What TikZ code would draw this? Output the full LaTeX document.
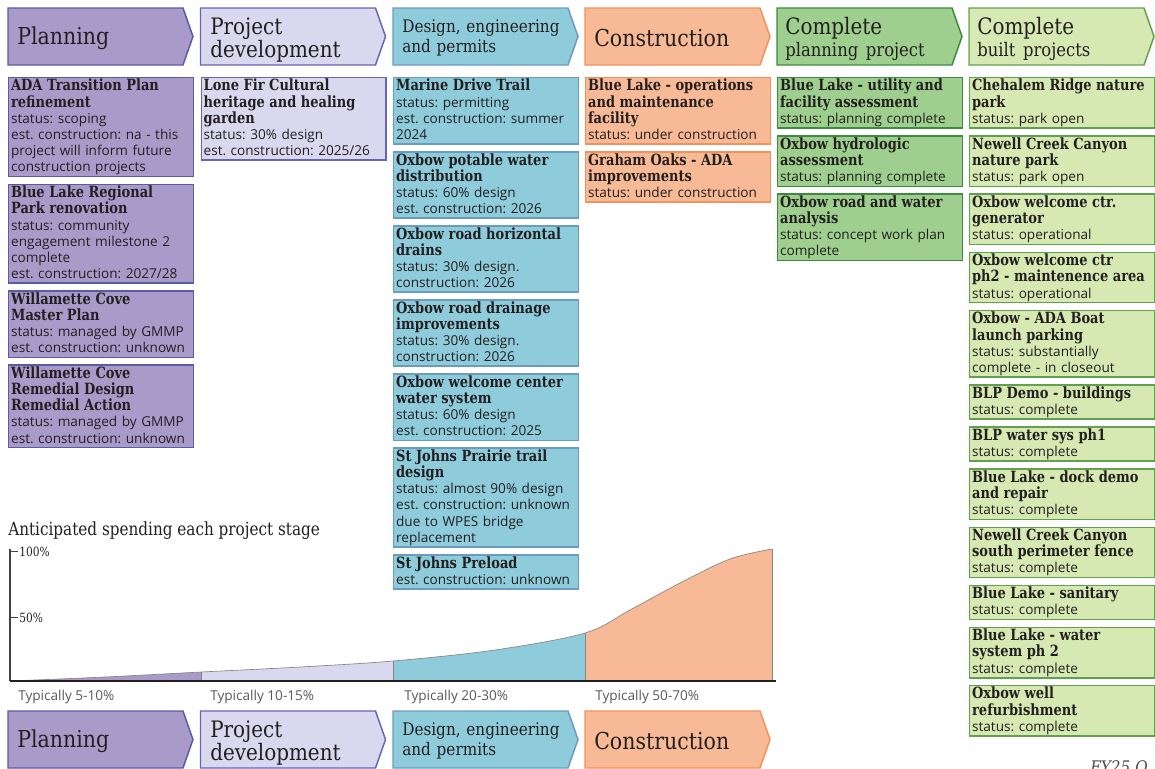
\documentclass[tikz,border=0pt]{standalone}
\usepackage{fontspec}
\setmainfont{Open Sans}
\newfontfamily\slab[FakeStretch=0.88]{DejaVu Serif}
\newfontfamily\slabttl[FakeStretch=0.84]{DejaVu Serif}
\newfontfamily\slabnarrow[FakeStretch=0.84]{DejaVu Serif}
\usetikzlibrary{positioning}
\frenchspacing
\definecolor{ink}{HTML}{231F20}
\definecolor{flplan}{HTML}{A99BC9}
\definecolor{lnplan}{HTML}{5A5BA5}
\definecolor{fldev}{HTML}{D9D8EE}
\definecolor{lndev}{HTML}{6466B4}
\definecolor{fldsgn}{HTML}{8FCCDB}
\definecolor{lndsgn}{HTML}{6A9CC0}
\definecolor{flcons}{HTML}{F8BA96}
\definecolor{lncons}{HTML}{F2915A}
\definecolor{flcplan}{HTML}{9FCF8E}
\definecolor{lncplan}{HTML}{3D8B3F}
\definecolor{flcbuilt}{HTML}{D7E9B2}
\definecolor{lncbuilt}{HTML}{62A04F}
\newcommand{\ptitle}[1]{{\slabttl\bfseries\fontsize{11.6}{12.15}\selectfont #1}}
\tikzset{
  projbox/.style={draw=ln#1, fill=fl#1, line width=1.1pt, rectangle, text width=135pt,
    inner xsep=1.8pt, inner ysep=1.1pt, align=left, text=ink,
    font=\fontsize{10.2}{12.15}\selectfont,
    execute at end node={\rule[-2.2pt]{0pt}{2.2pt}}},
  stagetxt/.style={anchor=west, align=left, text width=170pt, inner sep=0pt, text=ink},
  typlabel/.style={anchor=west, inner sep=0pt, text=ink!75, font=\fontsize{10.2}{11}\selectfont},
}
\begin{document}
\begin{tikzpicture}[x=0.75pt,y=-0.75pt]
\useasboundingbox (0,0) rectangle (1155,768);
% stage arrows, top row and bottom row
\foreach \x/\c in {8/plan,200.5/dev,393/dsgn,585/cons,777/cplan,969/cbuilt}
  \draw[line width=1.1pt, draw=ln\c, fill=fl\c] (\x,8) -- ++(175,0) -- ++(10,28.5) -- ++(-10,28.5) -- ++(-175,0) -- cycle;
\foreach \x/\c in {8/plan,200.5/dev,393/dsgn,585/cons}
  \draw[line width=1.1pt, draw=ln\c, fill=fl\c] (\x,711) -- ++(175,0) -- ++(10,28.5) -- ++(-10,28.5) -- ++(-175,0) -- cycle;
\node[stagetxt, font=\slab\fontsize{17.5}{15}\selectfont] (hplan) at (17,38) {Planning};
\node[stagetxt, font=\slab\fontsize{17}{14}\selectfont] (hdev) at (210,40) {Project\\development};
\node[stagetxt, font=\slab\fontsize{13}{15}\selectfont] (hdsgn) at (402,38) {Design, engineering\\and permits};
\node[stagetxt, font=\slab\fontsize{17.5}{15}\selectfont] (hcons) at (594,38) {Construction};
\node[stagetxt, font=\slab\fontsize{17}{17}\selectfont] (hcplan) at (785,39) {Complete\\\fontsize{14}{17}\selectfont planning project};
\node[stagetxt, font=\slab\fontsize{17}{17}\selectfont] (hcbuilt) at (977,39) {Complete\\\fontsize{14}{17}\selectfont built projects};
\node[stagetxt, font=\slab\fontsize{17.5}{15}\selectfont] (bplan) at (17,741) {Planning};
\node[stagetxt, font=\slab\fontsize{17}{14}\selectfont] (bdev) at (210,743) {Project\\development};
\node[stagetxt, font=\slab\fontsize{13}{15}\selectfont] (bdsgn) at (402,741) {Design, engineering\\and permits};
\node[stagetxt, font=\slab\fontsize{17.5}{15}\selectfont] (bcons) at (594,741) {Construction};

% planning
\node[projbox=plan, anchor=north west] (pl1) at (8,77) {\ptitle{ADA Transition Plan\\refinement}\\status: scoping\\est. construction: na - this\\project will inform future\\construction projects};
\node[projbox=plan, below=4.8pt of pl1] (pl2) {\ptitle{Blue Lake Regional\\Park renovation}\\status: community\\engagement milestone 2\\complete\\est. construction: 2027/28};
\node[projbox=plan, below=4.8pt of pl2] (pl3) {\ptitle{Willamette Cove\\Master Plan}\\status: managed by GMMP\\est. construction: unknown};
\node[projbox=plan, below=4.8pt of pl3] (pl4) {\ptitle{Willamette Cove\\Remedial Design\\Remedial Action}\\status: managed by GMMP\\est. construction: unknown};

% project development
\node[projbox=dev, anchor=north west] (dv1) at (200.5,77) {\ptitle{Lone Fir Cultural\\heritage and healing\\garden}\\status: 30\% design\\est. construction: 2025/26};

% design, engineering and permits
\node[projbox=dsgn, anchor=north west] (ds1) at (393,77) {\ptitle{Marine Drive Trail}\\status: permitting\\est. construction: summer\\2024};
\node[projbox=dsgn, below=4.8pt of ds1] (ds2) {\ptitle{Oxbow potable water\\distribution}\\status: 60\% design\\est. construction: 2026};
\node[projbox=dsgn, below=4.8pt of ds2] (ds3) {\ptitle{Oxbow road horizontal\\drains}\\status: 30\% design.\\construction: 2026};
\node[projbox=dsgn, below=4.8pt of ds3] (ds4) {\ptitle{Oxbow road drainage\\improvements}\\status: 30\% design.\\construction: 2026};
\node[projbox=dsgn, below=4.8pt of ds4] (ds5) {\ptitle{Oxbow welcome center\\water system}\\status: 60\% design\\est. construction: 2025};
\node[projbox=dsgn, below=4.8pt of ds5] (ds6) {\ptitle{St Johns Prairie trail\\design}\\status: almost 90\% design\\est. construction: unknown\\due to WPES bridge\\replacement};
\node[projbox=dsgn, below=4.8pt of ds6] (ds7) {\ptitle{St Johns Preload}\\est. construction: unknown};

% construction
\node[projbox=cons, anchor=north west] (cn1) at (585,77) {\ptitle{Blue Lake - operations\\and maintenance\\facility}\\status: under construction};
\node[projbox=cons, below=4.8pt of cn1] (cn2) {\ptitle{Graham Oaks - ADA\\improvements}\\status: under construction};

% complete planning project
\node[projbox=cplan, anchor=north west] (cp1) at (777,77) {\ptitle{Blue Lake - utility and\\facility assessment}\\status: planning complete};
\node[projbox=cplan, below=4.8pt of cp1] (cp2) {\ptitle{Oxbow hydrologic\\assessment}\\status: planning complete};
\node[projbox=cplan, below=4.8pt of cp2] (cp3) {\ptitle{Oxbow road and water\\analysis}\\status: concept work plan\\complete};

% complete built projects
\node[projbox=cbuilt, anchor=north west] (cb1) at (969,77) {\ptitle{Chehalem Ridge nature\\park}\\status: park open};
\node[projbox=cbuilt, below=4.8pt of cb1] (cb2) {\ptitle{Newell Creek Canyon\\nature park}\\status: park open};
\node[projbox=cbuilt, below=4.8pt of cb2] (cb3) {\ptitle{Oxbow welcome ctr.\\generator}\\status: operational};
\node[projbox=cbuilt, below=4.8pt of cb3] (cb4) {\ptitle{Oxbow welcome ctr\\ph2 - maintenence area}\\status: operational};
\node[projbox=cbuilt, below=4.8pt of cb4] (cb5) {\ptitle{Oxbow - ADA Boat\\launch parking}\\status: substantially\\complete - in closeout};
\node[projbox=cbuilt, below=4.8pt of cb5] (cb6) {\ptitle{BLP Demo - buildings}\\status: complete};
\node[projbox=cbuilt, below=4.8pt of cb6] (cb7) {\ptitle{BLP water sys ph1}\\status: complete};
\node[projbox=cbuilt, below=4.8pt of cb7] (cb8) {\ptitle{Blue Lake - dock demo\\and repair}\\status: complete};
\node[projbox=cbuilt, below=4.8pt of cb8] (cb9) {\ptitle{Newell Creek Canyon\\south perimeter fence}\\status: complete};
\node[projbox=cbuilt, below=4.8pt of cb9] (cb10) {\ptitle{Blue Lake - sanitary}\\status: complete};
\node[projbox=cbuilt, below=4.8pt of cb10] (cb11) {\ptitle{Blue Lake - water\\system ph 2}\\status: complete};
\node[projbox=cbuilt, below=4.8pt of cb11] (cb12) {\ptitle{Oxbow well\\refurbishment}\\status: complete};

% spending chart
\node[anchor=base west, inner sep=0pt, text=ink, font=\slabnarrow\fontsize{13.6}{15}\selectfont] (charttitle) at (8,535) {Anticipated spending each project stage};
\foreach \a/\b/\c in {10/201/plan,201/393/dev,393/585/dsgn,585/772/cons}{
  \begin{scope}
    \clip (\a,540) rectangle (\b,681);
    \fill[fl\c] plot[smooth, tension=0.55] coordinates {(10,681) (105,677) (201,672) (300,667) (393,661) (495,650) (585,633) (630,610) (680,583) (730,559) (772,549)} -- (772,681) -- cycle;
  \end{scope}
}
\draw[ink!55, line width=0.5pt] plot[smooth, tension=0.55] coordinates {(10,681) (105,677) (201,672) (300,667) (393,661) (495,650) (585,633) (630,610) (680,583) (730,559) (772,549)};
\foreach \x/\y in {201/672,393/661,585/633,772/549}
  \draw[ink!55, line width=0.5pt] (\x,681) -- (\x,\y);
\draw[ink!85, line width=1.3pt] (10,549) -- (10,681);
\draw[ink!85, line width=0.5pt] (10,551) -- (18,551);
\draw[ink!85, line width=0.5pt] (10,617) -- (18,617);
\node[anchor=west, inner sep=0pt, text=ink, font=\slabnarrow\fontsize{9.5}{10}\selectfont] (p100) at (19,552) {100\%};
\node[anchor=west, inner sep=0pt, text=ink, font=\slabnarrow\fontsize{9.5}{10}\selectfont] (p50) at (19,618) {50\%};
\draw[ink, line width=1.6pt] (10,681) -- (776,681);
\node[typlabel] (typ1) at (18,697) {Typically 5-10\%};
\node[typlabel] (typ2) at (210,697) {Typically 10-15\%};
\node[typlabel] (typ3) at (404,697) {Typically 20-30\%};
\node[typlabel] (typ4) at (595,697) {Typically 50-70\%};
\node[anchor=base west, inner sep=0pt, text=ink!80, font=\slab\itshape\fontsize{13}{14}\selectfont] (fy) at (1090,773) {FY25 Q};
\end{tikzpicture}
\end{document}
